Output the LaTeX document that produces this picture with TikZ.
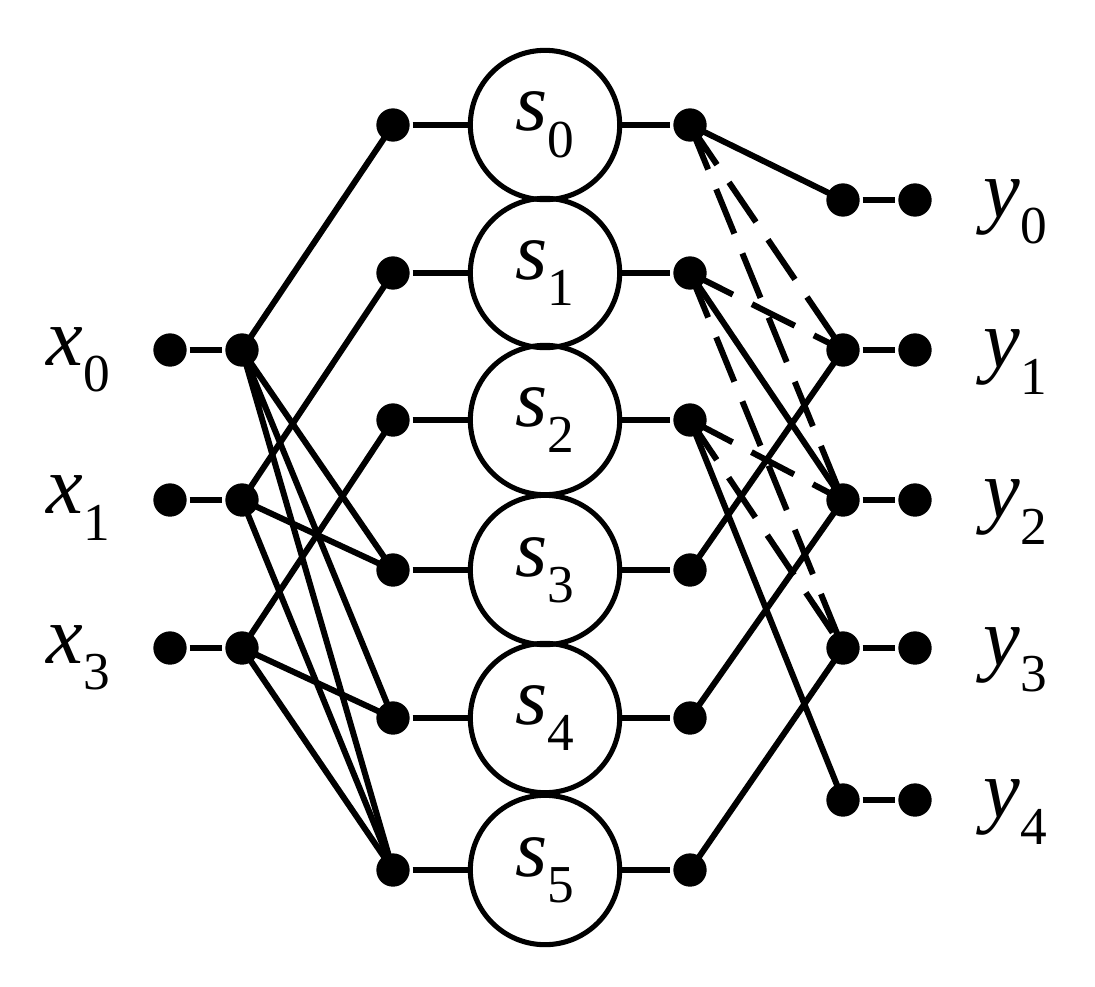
\documentclass[tikz,border=0pt]{standalone}
\usepackage{fontspec}
\setmainfont{Liberation Serif}
\newcommand{\lbl}[2]{{\itshape #1}\raisebox{-0.32em}{\upshape\fontsize{40}{40}\selectfont #2}}
\begin{document}
\begin{tikzpicture}[x=0.75pt,y=-0.75pt,line width=4.5pt,
  dot/.style={circle,fill=black,inner sep=0pt,minimum size=25pt},
  cir/.style={circle,draw,line width=3.8pt,minimum size=112pt,inner sep=0pt,font=\fontsize{62}{62}\selectfont},
  txt/.style={font=\fontsize{62}{62}\selectfont},
  dsh/.style={dash pattern=on 36pt off 16pt}]
\useasboundingbox (0,0) rectangle (1095,986);
\foreach \i/\y in {0/125,1/273,2/420,3/570,4/718,5/870}{
  \node[cir] (s\i) at (545,\y) {\lbl{s}{\i}};
  \node[dot] (l\i) at (393,\y) {};
  \node[dot] (r\i) at (690,\y) {};
  \draw (l\i) -- (s\i); \draw (s\i) -- (r\i);
}
\foreach \n/\y in {0/350,1/500,3/648}{
  \node[dot] (a\n) at (170,\y) {};
  \node[dot] (b\n) at (242,\y) {};
  \draw (a\n) -- (b\n);
}
\node[txt] (tx0) at (78,360) {\lbl{x}{0}};
\node[txt] (tx1) at (78,508) {\lbl{x}{1}};
\node[txt] (tx3) at (78,658) {\lbl{x}{3}};
\foreach \n/\y in {0/200,1/350,2/500,3/648,4/800}{
  \node[dot] (c\n) at (843,\y) {};
  \node[dot] (d\n) at (915,\y) {};
  \draw (c\n) -- (d\n);
  \node[txt] (ty\n) at (1015,\y+12) {\lbl{y}{\n}};
}
\draw (b0.center) -- (l0.center) (b0.center) -- (l3.center) (b0.center) -- (l4.center) (b0.center) -- (l5.center);
\draw (b1.center) -- (l1.center) (b1.center) -- (l3.center) (b1.center) -- (l5.center);
\draw (b3.center) -- (l2.center) (b3.center) -- (l4.center) (b3.center) -- (l5.center);
\draw (r0.center) -- (c0.center) (r1.center) -- (c2.center) (r2.center) -- (c4.center)
      (r3.center) -- (c1.center) (r4.center) -- (c2.center) (r5.center) -- (c3.center);
\draw[dsh] (r0.center) -- (c1.center) (r0.center) -- (c2.center)
      (r1.center) -- (c1.center) (r1.center) -- (c3.center)
      (r2.center) -- (c2.center) (r2.center) -- (c3.center);
\end{tikzpicture}
\end{document}
